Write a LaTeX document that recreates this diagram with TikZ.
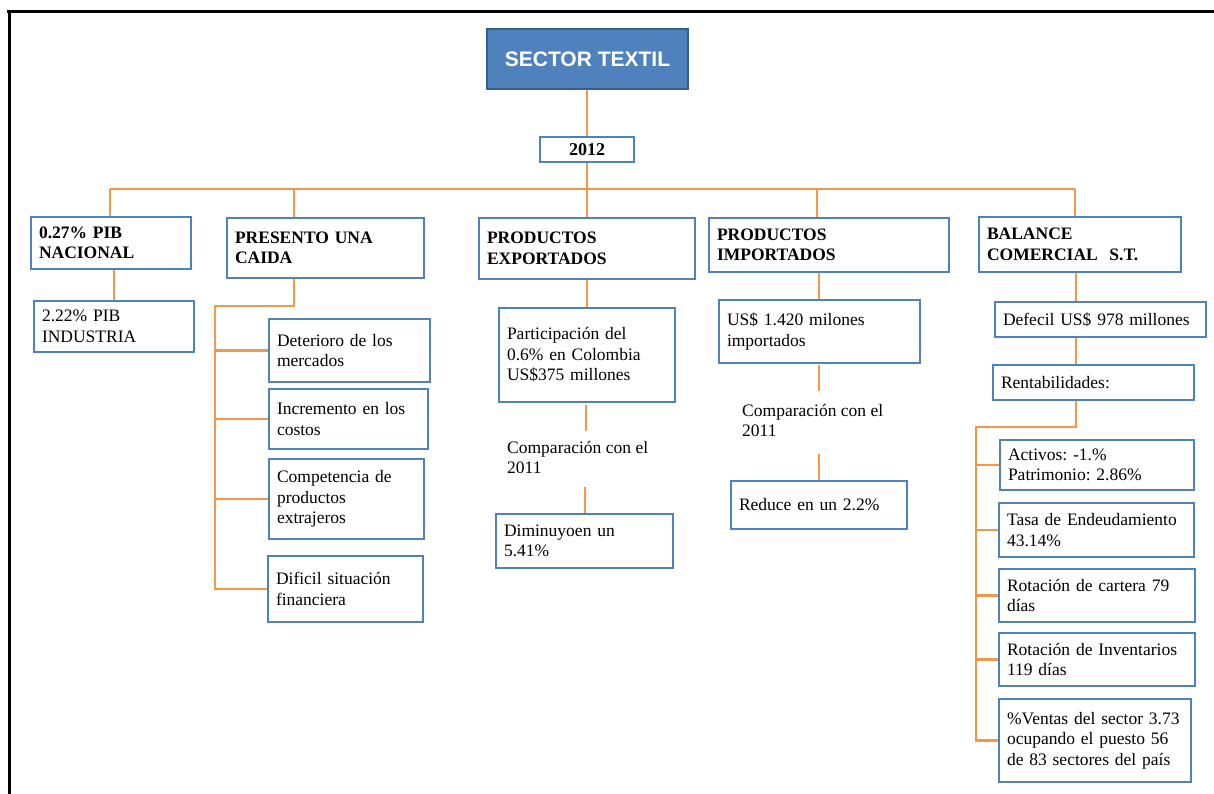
\documentclass[tikz,border=0pt]{standalone}
\usepackage{fontspec}
\setmainfont{Liberation Serif}
\newfontfamily\titlefont{Liberation Sans}
\definecolor{boxblue}{HTML}{4F81BD}
\definecolor{darkblue}{HTML}{385D8A}
\definecolor{connorange}{HTML}{F79646}
\frenchspacing
\tikzset{
  box/.style={draw=boxblue, line width=2pt, fill=white, align=left,
    inner xsep=8pt, inner ysep=0pt, font=\fontsize{17.5}{20.5}\selectfont},
  head/.style={font=\fontsize{17.5}{20.5}\selectfont\bfseries},
  conn/.style={draw=connorange, line width=2.8pt},
  plain/.style={align=left, inner sep=0pt, anchor=north west, font=\fontsize{17.5}{20.5}\selectfont},
  frame/.style={draw=black, line width=3pt}
}
\newcommand\mybx[7][]{%
  \pgfmathsetmacro\bw{#5-#3}%
  \pgfmathsetmacro\bh{#6-#4}%
  \pgfmathsetmacro\cx{(#3+#5)/2}%
  \pgfmathsetmacro\cy{(#4+#6)/2}%
  \pgfmathsetmacro\tw{\bw-16}%
  \node[box,minimum width=\bw pt,minimum height=\bh pt,text width=\tw pt,#1] (#2) at (\cx,\cy) {#7};}
\begin{document}
\begin{tikzpicture}[x=1pt,y=-1pt]
\useasboundingbox (0,0) rectangle (1214,794);
% frame
\draw[frame] (7,12) -- (1214,12);
\draw[frame] (9,12) -- (9,794);
% title
\node[draw=darkblue, line width=1.5pt, fill=boxblue, text=white,
  font=\titlefont\bfseries\fontsize{21}{24}\selectfont,
  minimum width=201pt, minimum height=60pt, inner sep=0pt] (top) at (587.5,59) {SECTOR TEXTIL};
\mybx[align=center,head,font=\fontsize{18}{20}\selectfont\bfseries]{y2012}{540}{137}{634}{162}{2012}
% level 1
\mybx[head]{b1}{31}{217}{191}{269}{0.27\% PIB\\NACIONAL}
\mybx[head]{b2}{227}{218}{424}{278}{PRESENTO UNA\\CAIDA}
\mybx[head]{b3}{479}{218}{695}{279}{PRODUCTOS\\EXPORTADOS}
\mybx[head]{b4}{709}{218}{949}{272}{PRODUCTOS\\IMPORTADOS}
\mybx[head]{b5}{979}{217}{1181}{272}{BALANCE\\COMERCIAL\ \ S.T.}
% column 1
\mybx{a1}{34}{301}{194}{352}{2.22\% PIB\\INDUSTRIA}
% column 2
\mybx{s1}{269}{319}{430}{382}{Deterioro de los\\mercados}
\mybx{s2}{269}{389}{428}{449}{Incremento en los\\costos}
\mybx{s3}{269}{459}{424}{539}{Competencia de\\productos\\extrajeros}
\mybx{s4}{268}{556}{423}{622}{Dificil situación\\financiera}
% column 3
\mybx{p1}{499}{308}{675}{402}{Participación del\\0.6\% en Colombia\\US\$375 millones}
\node[plain] (comp1) at (507,441) {Comparación con el\\2011};
\mybx{d1}{496}{514}{673}{568}{Diminuyoen un\\5.41\%}
% column 4
\mybx{i1}{719}{300}{920}{363}{US\$ 1.420 milones\\importados}
\node[plain] (comp2) at (742,404) {Comparación con el\\2011};
\mybx{i2}{731}{481}{907}{529}{Reduce en un 2.2\%}
% column 5
\mybx{f1}{995}{302}{1206}{337}{Defecil US\$ 978 millones}
\mybx{f2}{993}{365}{1194}{400}{Rentabilidades:}
\mybx{r1}{1000}{440}{1194}{490}{Activos: -1.\%\\Patrimonio: 2.86\%}
\mybx{r2}{999}{503}{1194}{557}{Tasa de Endeudamiento\\43.14\%}
\mybx{r3}{999}{569}{1195}{622}{Rotación de cartera 79\\días}
\mybx{r4}{999}{633}{1195}{686}{Rotación de Inventarios\\119 días}
\mybx{r5}{999}{699}{1191}{782}{\%Ventas del sector 3.73\\ocupando el puesto 56\\de 83 sectores del país}
% connectors
\coordinate (k1) at (110,189);
\coordinate (k2) at (294,189);
\coordinate (k3) at (587,189);
\coordinate (k4) at (817,189);
\coordinate (k5) at (1075,189);
\draw[conn] (y2012.north |- top.south) -- (y2012.north);
\draw[conn] (y2012.south) -- (k3);
\draw[conn] (k1) -- (k5);
\foreach \i in {1,...,5} {\draw[conn] (k\i) -- (k\i |- b\i.north);}
% col 1
\draw[conn] (a1.north |- b1.south) -- (a1.north);
% col 2
\coordinate (c2a) at (294,306);
\coordinate (c2b) at (215,306);
\draw[conn] (k2 |- b2.south) -- (c2a) -- (c2b) -- (c2b |- s4.west) -- (s4.west);
\foreach \s in {s1,s2,s3} {\draw[conn] (c2b |- \s.west) -- (\s.west);}
% col 3
\coordinate (e1a) at (586,405);
\coordinate (e1b) at (586,431);
\coordinate (e2a) at (585,487);
\draw[conn] (b3.south) -- (b3.south |- p1.north);
\draw[conn] (e1a) -- (e1b);
\draw[conn] (e2a) -- (e2a |- d1.north);
% col 4
\coordinate (g1a) at (819,365);
\coordinate (g1b) at (819,391);
\coordinate (g2a) at (819,454);
\draw[conn] (g1a |- b4.south) -- (g1a |- i1.north);
\draw[conn] (g1a) -- (g1b);
\draw[conn] (g2a) -- (g2a |- i2.north);
% col 5
\coordinate (v5) at (1076,427);
\coordinate (h5) at (976,427);
\draw[conn] (v5 |- b5.south) -- (v5 |- f1.north);
\draw[conn] (v5 |- f1.south) -- (v5 |- f2.north);
\draw[conn] (v5 |- f2.south) -- (v5) -- (h5) -- (h5 |- r5.west) -- (r5.west);
\foreach \r in {r1,r2,r3,r4} {\draw[conn] (h5 |- \r.west) -- (\r.west);}
\end{tikzpicture}
\end{document}
